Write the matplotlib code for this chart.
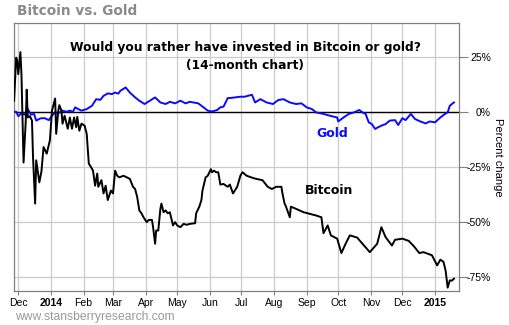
import matplotlib
matplotlib.use("Agg")
import matplotlib.pyplot as plt
import matplotlib.dates as mdates
import numpy as np
import pandas as pd

btc_dates = ["2013-11-27","2013-11-29","2013-11-30","2013-12-01","2013-12-03","2013-12-04","2013-12-06",
    "2013-12-08","2013-12-09","2013-12-10","2013-12-12","2013-12-14","2013-12-15","2013-12-16","2013-12-17",
    "2013-12-18","2013-12-21","2013-12-23","2013-12-25","2013-12-28","2013-12-31","2014-01-02","2014-01-05",
    "2014-01-06","2014-01-08","2014-01-09","2014-01-11","2014-01-12","2014-01-14","2014-01-17","2014-01-19",
    "2014-01-21","2014-01-23","2014-01-25","2014-01-26","2014-01-28","2014-01-30","2014-02-02","2014-02-04",
    "2014-02-06","2014-02-08","2014-02-10","2014-02-12","2014-02-14","2014-02-15","2014-02-18","2014-02-20",
    "2014-02-22","2014-02-24","2014-02-27","2014-03-01","2014-03-03","2014-03-05","2014-03-07","2014-03-11",
    "2014-03-14","2014-03-17","2014-03-20","2014-03-22","2014-03-24","2014-03-26","2014-03-28","2014-03-30",
    "2014-04-02","2014-04-04","2014-04-07","2014-04-08","2014-04-10","2014-04-11","2014-04-13","2014-04-15",
    "2014-04-16","2014-04-18","2014-04-20","2014-04-22","2014-04-24","2014-04-27","2014-04-29","2014-05-01",
    "2014-05-04","2014-05-07","2014-05-10","2014-05-13","2014-05-18","2014-05-19","2014-05-22","2014-05-24",
    "2014-05-25","2014-05-28","2014-05-30","2014-06-02","2014-06-03","2014-06-05","2014-06-07","2014-06-09",
    "2014-06-11","2014-06-14","2014-06-18","2014-06-20","2014-06-23","2014-06-27","2014-06-30","2014-07-02",
    "2014-07-06","2014-07-12","2014-07-15","2014-07-21","2014-07-26","2014-07-30","2014-08-03","2014-08-08",
    "2014-08-09","2014-08-11","2014-08-12","2014-08-16","2014-08-17","2014-08-22","2014-08-29","2014-09-02",
    "2014-09-10","2014-09-15","2014-09-17","2014-09-21","2014-09-24","2014-09-30","2014-10-04","2014-10-08",
    "2014-10-12","2014-10-19","2014-10-24","2014-10-31","2014-11-07","2014-11-11","2014-11-15","2014-11-21",
    "2014-11-24","2014-12-01","2014-12-07","2014-12-12","2014-12-17","2014-12-21","2014-12-29","2015-01-03",
    "2015-01-06","2015-01-09","2015-01-11","2015-01-13","2015-01-15","2015-01-17","2015-01-19"]
btc_values = [5, 24.5, 23, 17, 27, 17, -23,
    -5, 10, -2.6, -2, -4, -20.6, -31, -41.6,
    -22, -32, -27, -16, -19, -13, 0.5, 6,
    -10, 0.5, 3, 0.5, -5.4, -1.8, -7.7, -2.6,
    -7.7, -2.6, -7, -2.3, -8.6, -5.4, -6.3, -10,
    -23.5, -25, -26.7, -33.5, -28, -34, -31, -37,
    -33.5, -40, -35.7, -37, -26.7, -29, -29.7, -29,
    -29.7, -30.4, -34, -35, -38.7, -44.7, -46, -47.8,
    -50, -49, -49, -52, -59.8, -53.8, -53.8, -44,
    -41.6, -45.5, -44.7, -46, -45.5, -51.5, -50, -51.5,
    -52.3, -50.8, -51.2, -50.8, -50.5, -46, -43, -40,
    -35.7, -29.7, -29, -26, -27.4, -26.7, -27.4, -27.4,
    -33, -32.7, -34, -33, -37, -34, -29, -27.4,
    -29, -30, -30.4, -31, -34, -35, -34, -34,
    -37, -41.6, -42.5, -47.8, -43, -44, -45.5, -46,
    -47, -47.8, -55, -51.5, -56, -57.5, -64, -59.8,
    -56, -57, -59.8, -63.6, -59.8, -52.3, -56.8, -60.6,
    -58, -57.5, -58.5, -61, -64, -63.6, -65, -69.6,
    -67, -68, -71.9, -79.7, -76.4, -76.5, -75.6]

gold_dates = ["2013-11-27","2013-11-29","2013-12-01","2013-12-04","2013-12-07","2013-12-10","2013-12-13",
    "2013-12-16","2013-12-18","2013-12-22","2013-12-26","2013-12-30","2014-01-02","2014-01-05","2014-01-08",
    "2014-01-12","2014-01-16","2014-01-19","2014-01-22","2014-01-24","2014-01-27","2014-01-30","2014-02-04",
    "2014-02-09","2014-02-13","2014-02-17","2014-02-20","2014-02-24","2014-02-28","2014-03-03","2014-03-06",
    "2014-03-08","2014-03-13","2014-03-17","2014-03-22","2014-03-26","2014-03-31","2014-04-05","2014-04-10",
    "2014-04-15","2014-04-20","2014-04-24","2014-04-29","2014-05-04","2014-05-09","2014-05-13","2014-05-21",
    "2014-05-26","2014-05-30","2014-06-02","2014-06-04","2014-06-08","2014-06-11","2014-06-14","2014-06-18",
    "2014-06-20","2014-06-25","2014-06-30","2014-07-04","2014-07-11","2014-07-14","2014-07-19","2014-07-25",
    "2014-07-31","2014-08-05","2014-08-10","2014-08-16","2014-08-22","2014-08-27","2014-09-01","2014-09-06",
    "2014-09-10","2014-09-17","2014-09-23","2014-09-30","2014-10-01","2014-10-06","2014-10-11","2014-10-16",
    "2014-10-21","2014-10-24","2014-10-27","2014-10-30","2014-11-02","2014-11-05","2014-11-08","2014-11-11",
    "2014-11-15","2014-11-19","2014-11-24","2014-11-27","2014-12-01","2014-12-04","2014-12-09","2014-12-13",
    "2014-12-18","2014-12-23","2014-12-27","2015-01-01","2015-01-06","2015-01-11","2015-01-13","2015-01-15",
    "2015-01-17","2015-01-19"]
gold_values = [0, 0, -2, -0.7, -1.3, 1.2, -1.3,
    -1, -4, -3, -2.9, -3.8, -1.8, -0.3, -0.7,
    0.5, 0, 0.5, 0, 2, 1.2, 0.5, 1.2,
    2.7, 5.7, 5.4, 7.2, 8.3, 8, 8.7, 8.2,
    9.5, 11, 8.7, 6.5, 5, 3.5, 5, 6.5,
    4.2, 3.5, 4.5, 3.8, 5, 3.8, 4.5, 3.8,
    2, 0.5, 0.2, 0.2, 0.8, 2, 2.3, 6.2,
    6.2, 6.5, 6.8, 6.8, 7.7, 4.2, 5.7, 4.2,
    3.5, 5.3, 5.7, 4.2, 3.5, 3.8, 2, 1.2,
    -0.3, -1, -1.8, -2.6, -4.4, -2.6, -1, -0.3,
    0.8, -0.3, -1, -4.8, -5.6, -7.8, -7, -6.3,
    -5.6, -4, -3.8, -6, -2.9, -3.8, -1, -3.3,
    -4.4, -5.3, -4.4, -4.8, -2.6, -0.8, -0.3, 2.7,
    3.5, 4.2]

month_ticks = pd.date_range("2013-12-01", "2015-01-01", freq="MS")
tick_labels = ["Dec", "2014", "Feb", "Mar", "Apr", "May", "Jun", "Jul", "Aug", "Sep", "Oct", "Nov", "Dec", "2015"]
y_ticks = [25, 0, -25, -50, -75]
y_labels = ["25%", "0%", "-25%", "-50%", "-75%"]

plt.rcParams['font.family'] = ['DejaVu Sans']
fig = plt.figure(figsize=(5.1, 3.25), dpi=100)
ax = fig.add_axes([14/510, 34/325, 445/510, 268/325])

bd = pd.to_datetime(btc_dates)
gd = pd.to_datetime(gold_dates)

ax.set_xlim(pd.Timestamp("2013-11-26 22:00"), pd.Timestamp("2015-01-23 18:00"))
ax.set_ylim(-81.2, 40.2)

ax.set_xticks(month_ticks)
ax.set_xticklabels(tick_labels)
for lbl in ax.get_xticklabels():
    lbl.set_fontfamily("Liberation Sans")
    lbl.set_fontsize(7.5)
    if lbl.get_text() in ("2014", "2015"):
        lbl.set_fontweight("bold")

ax.yaxis.tick_right()
ax.set_yticks(y_ticks)
ax.set_yticklabels(y_labels, fontfamily="Liberation Sans", fontsize=7.5, ha='right')
ax.tick_params(axis='x', length=3, width=0.8, color='#808080', pad=2)
ax.tick_params(axis='y', length=6.5, width=0.8, color='#808080', pad=16.5)

ax.grid(True, color='#cccccc', linewidth=0.9)
ax.set_axisbelow(True)
for s in ax.spines.values():
    s.set_color('#808080')
    s.set_linewidth(0.9)

ax.axhline(0, color='black', linewidth=1.0, zorder=2)
ax.plot(gd, gold_values, color='#0a0aff', linewidth=1.4, zorder=3)
ax.plot(bd, btc_values, color='black', linewidth=1.4, zorder=4)

ax.yaxis.set_label_position("right")
ax.set_ylabel("Percent change", rotation=270, fontfamily="Liberation Sans", fontsize=8, labelpad=9)

fig.text(17/510, 1 - 11/325, "Bitcoin vs. Gold", fontsize=9.8, fontweight='bold', color='#8a8a8a',
         ha='left', va='center')
fig.text(245/510, 1 - 48/325, "Would you rather have invested in Bitcoin or gold?", fontsize=8.8,
         fontweight='bold', color='black', ha='center', va='center')
fig.text(245/510, 1 - 65/325, "(14-month chart)", fontsize=8.8,
         fontweight='bold', color='black', ha='center', va='center')
fig.text(332/510, 1 - 133/325, "Gold", fontsize=9, fontweight='bold', color='#0a0aff', ha='center', va='center')
fig.text(329/510, 1 - 191/325, "Bitcoin", fontsize=9, fontweight='bold', color='black', ha='center', va='center')
fig.text(15/510, 1 - 317/325, "www.stansberryresearch.com", fontsize=8.7, color='#999999',
         fontfamily="Liberation Sans", ha='left', va='center')

fig.savefig("out.png", dpi=100)
